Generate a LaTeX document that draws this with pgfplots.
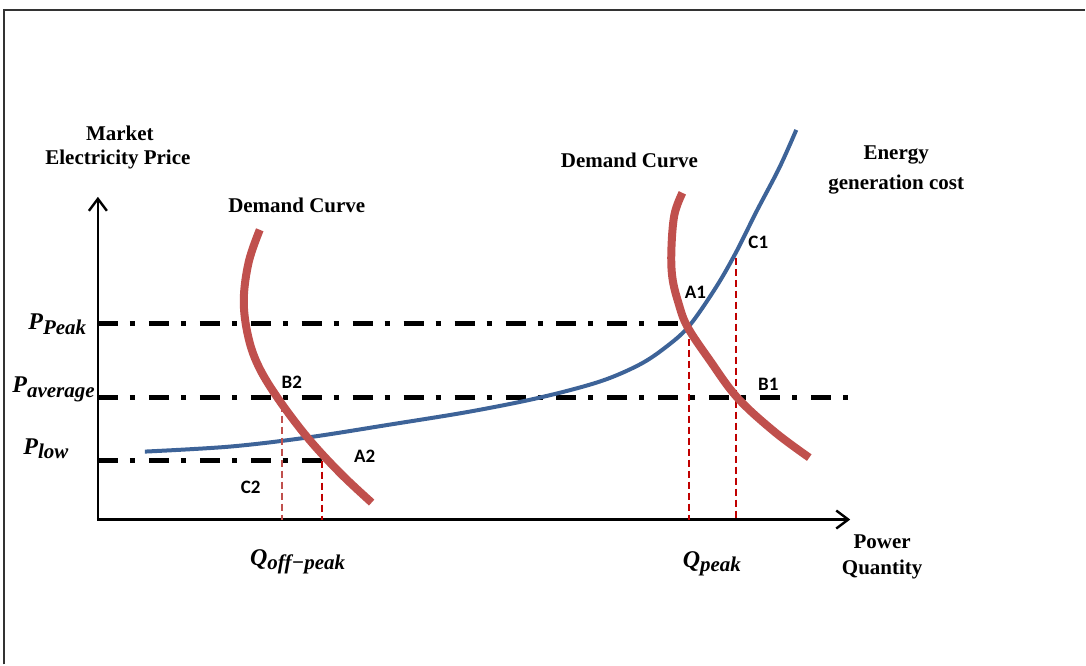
\documentclass[border=0pt]{standalone}
\usepackage{pgfplots}
\pgfplotsset{compat=1.18}
\usepackage{fontspec}
\setmainfont{Liberation Serif}
\newfontfamily\lblfont{Carlito}
\usetikzlibrary{arrows.meta}
\definecolor{cblue}{HTML}{3D6398}
\definecolor{cred}{HTML}{C0504D}
\definecolor{dred}{HTML}{C00000}
\newcommand{\sub}[1]{\raisebox{-0.4ex}{\fontsize{10.5}{12}\selectfont #1}}
\begin{document}
\begin{tikzpicture}
\begin{axis}[
  scale only axis, width=543pt, height=332.5pt,
  xmin=0, xmax=1086, ymin=0, ymax=665, y dir=reverse,
  hide axis, clip=false,
]
\path (rel axis cs:0,0) rectangle (rel axis cs:1,1);
% frame
\addplot[line width=1pt, color=black!80] coordinates {(4,665) (4,10) (1086,10)};
% axes
\addplot[line width=1.2pt, -{Straight Barb[length=6pt,width=9pt,line width=1.2pt]}] coordinates {(98,521) (98,197)};
\addplot[line width=1.2pt, -{Straight Barb[length=6pt,width=9pt,line width=1.2pt]}] coordinates {(97,520) (851,520)};
% dash-dot price lines
\addplot[line width=2.5pt, dash pattern=on 10pt off 6pt on 2.5pt off 7pt] coordinates {(98,324) (690,324)};
\addplot[line width=2.5pt, dash pattern=on 10pt off 6pt on 2.5pt off 7pt] coordinates {(98,398) (850,398)};
\addplot[line width=2.5pt, dash pattern=on 10pt off 6pt on 2.5pt off 7pt] coordinates {(98,461) (322,461)};
% energy generation cost
\addplot[line width=2pt, color=cblue, smooth, tension=0.55] coordinates {
 (145,452) (230,447) (307,438) (390,425) (470,412) (540,398) (600,382) (640,365) (667,347) (690,326) (717,287) (737,252) (757,212) (780,168) (797,130)};
% vertical dashed lines
\addplot[line width=1pt, color=cred, dash pattern=on 3.5pt off 2pt] coordinates {(282,405) (282,520)};
\addplot[line width=1pt, color=dred, dash pattern=on 3.5pt off 2pt] coordinates {(322,461) (322,520)};
\addplot[line width=1pt, color=dred, dash pattern=on 3.5pt off 2pt] coordinates {(690,328) (690,520)};
\addplot[line width=1pt, color=dred, dash pattern=on 3.5pt off 2pt] coordinates {(737,258) (737,520)};
% demand curves
\addplot[line width=4pt, color=cred, smooth, tension=0.6] coordinates {
 (260,230) (249,262) (244,300) (248,335) (258,365) (277,397) (307,437) (340,473) (372,503)};
\addplot[line width=4pt, color=cred, smooth, tension=0.6] coordinates {
 (683,193) (675,215) (672,250) (673,278) (679,303) (688,327) (710,360) (738,398) (775,432) (810,458)};
% texts
\begin{scope}[every node/.style={font=\fontsize{10.5}{12}\selectfont\bfseries, align=center, inner sep=0pt}]
\node at (axis cs:120,133) {Market};
\node at (axis cs:118,160) {Electricity Price};
\node at (axis cs:297,206) {Demand Curve};
\node at (axis cs:630,160) {Demand Curve};
\node at (axis cs:897,155) {Energy};
\node at (axis cs:897,185) {generation cost};
\node at (axis cs:883,542) {Power};
\node at (axis cs:883,570) {Quantity};
\end{scope}
\begin{scope}[every node/.style={font=\fontsize{12}{14}\selectfont\bfseries\itshape, inner sep=0pt, anchor=base west}]
\node at (axis cs:28,330) {P\sub{Peak}};
\node at (axis cs:12,393) {P\sub{average}};
\node at (axis cs:23,455) {P\sub{low}};
\node at (axis cs:250,566) {Q\sub{off−peak}};
\node at (axis cs:683,568) {Q\sub{peak}};
\end{scope}
\begin{scope}[every node/.style={font=\lblfont\fontsize{9.5}{11}\selectfont\bfseries, inner sep=0pt}]
\node at (axis cs:696,293) {A1};
\node at (axis cs:759,243) {C1};
\node at (axis cs:769,385) {B1};
\node at (axis cs:292,383) {B2};
\node at (axis cs:365,457) {A2};
\node at (axis cs:251,488) {C2};
\end{scope}
\end{axis}
\end{tikzpicture}
\end{document}
